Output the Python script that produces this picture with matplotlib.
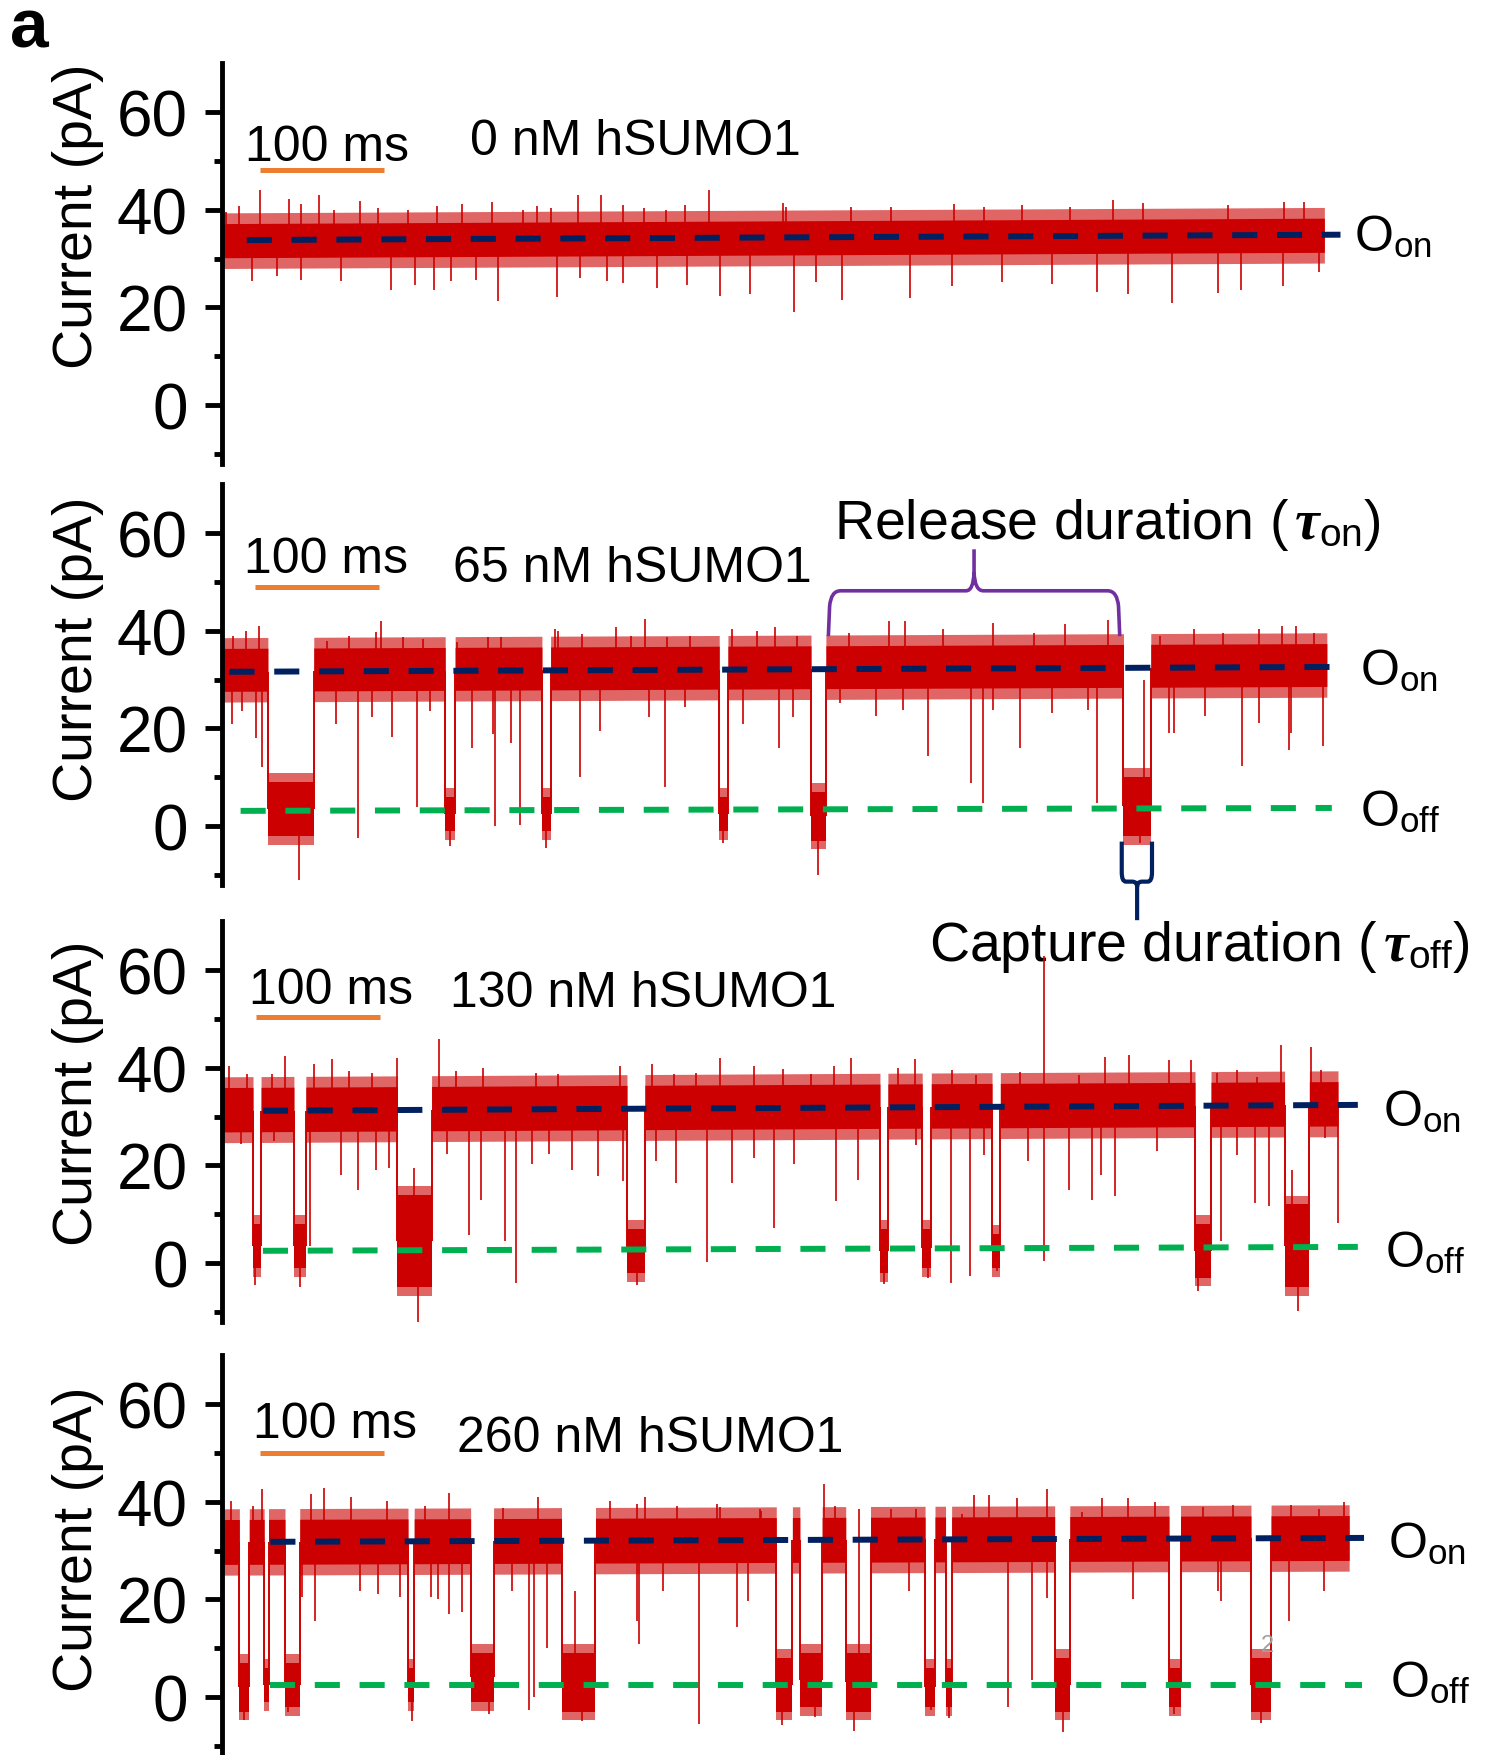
import matplotlib
matplotlib.use('Agg')
import matplotlib.pyplot as plt
from matplotlib.path import Path
from matplotlib.patches import PathPatch

plt.rcParams['font.family'] = ['Liberation Sans', 'DejaVu Sans']
plt.rcParams['mathtext.fontset'] = 'custom'
plt.rcParams['mathtext.rm'] = 'Liberation Sans'
plt.rcParams['mathtext.it'] = 'Liberation Serif:italic:bold'
plt.rcParams['mathtext.bf'] = 'Liberation Sans:bold'

RED = '#cc0000'
NAVY = '#002060'
GREEN = '#00b050'
ORANGE = '#ed7d31'
PURPLE = '#7030a0'

# ---------------- data: time in ms, current in pA ----------------
conc_labels = ['0 nM hSUMO1', '65 nM hSUMO1', '130 nM hSUMO1', '260 nM hSUMO1']
trace_end = [889, 891, 900, 909]

# dashed reference levels: (t_start, t_end, value_start, value_end)
on_lines = [(20, 902, 33.8, 34.9), (6, 900, 31.6, 32.6),
            (33, 916, 31.2, 32.4), (39, 921, 31.8, 32.6)]
off_lines = [None, (15, 895, 3.1, 3.7),
             (33, 916, 2.5, 3.3), (39, 919, 2.5, 2.5)]

# spread of the open-state noise band around the O_on level (low, high)
on_noise = [(-3.6, 3.4), (-4.0, 4.8), (-4.3, 4.8), (-4.6, 4.6)]

# capture events: (start, end, band low, band high)
caps_0 = []
caps_65 = [(37, 74, -2, 9), (180, 188, -1, 6), (258, 265, -1, 6),
           (401, 408, -1, 6), (475, 487, -3, 7), (727, 749, -2, 10)]
caps_130 = [(25, 31.5, -1, 8), (58, 67.6, -1, 8), (141.5, 169, -5, 14),
            (326.6, 341, -2, 7), (530.6, 537, -2, 7), (564.7, 572, -1, 7),
            (621, 627.7, -1, 6), (784.7, 797.6, -3, 8), (856.9, 876.9, -5, 12)]
caps_260 = [(14, 22, -3, 7), (34, 37.5, -1, 6), (50.8, 62.7, -2, 7),
            (150, 155, -1, 6), (200.5, 219, -1, 9), (273.8, 301.2, -3, 9),
            (447, 460, -3, 8), (466, 484, -2, 9), (503, 523, -3, 9),
            (567, 575, -2, 6), (583.5, 588.4, -2, 6), (671.5, 683.7, -3, 8),
            (763.7, 773, -2, 6), (829.8, 846, -3, 8)]

# brief excursions: (time, extreme value)
down_0 = [(0.5, 20.6), (23.8, 25.4), (44, 26.5), (64, 25.7), (95.8, 25.4),
          (136, 23.5), (156, 24.6), (170.7, 23.5), (185, 25.4), (205, 25.7),
          (222.5, 21.3), (270, 22.1), (288.8, 26.0), (310.3, 25.5), (323.3, 25.0),
          (350.6, 24.0), (375, 24.6), (401.5, 22.4), (426, 22.8), (461.3, 19.0),
          (478.8, 25.2), (500.4, 21.5), (555.1, 22.0), (588.4, 24.4), (629, 25.2),
          (669.5, 24.8), (706, 23.2), (730.3, 22.8), (766.2, 21.0), (803.4, 23.0),
          (821.7, 23.5), (856, 24.4), (884.5, 27.2)]
up_0 = [(3.6, 39.6), (13.7, 40.7), (31, 44.0), (54, 42.2), (64, 41.1),
        (77.9, 43.0), (90, 40.0), (111.6, 41.8), (126, 40.4), (150, 40.0),
        (173.6, 40.7), (193.7, 41.1), (218.1, 41.6), (242.7, 40.0), (254, 40.7),
        (265.7, 40.4), (287.3, 43.0), (306, 43.0), (323, 41.0), (340.6, 40.4),
        (358, 40.0), (373.7, 41.0), (392.4, 44.0), (452.4, 41.3), (454.5, 40.5),
        (507.2, 40.6), (539.7, 40.6), (590.4, 41.1), (614.7, 40.6), (645.2, 41.0),
        (683.7, 40.6), (718.2, 42.0), (742.5, 41.3), (811.5, 41.0), (856.1, 41.7),
        (872.4, 41.5)]

down_65 = [(8, 21), (16, 23.6), (27.6, 18), (32.3, 12), (62, -11), (91.8, 20.9),
           (110, -2.4), (120.7, 22.3), (137, 18.2), (157, 3.8), (167.7, 23.6),
           (184, -4), (202, 16), (218.2, 18.8), (220, 0), (232.7, 17), (240, 0.3),
           (261, -4.5), (288.6, 10), (304.9, 19.5), (344.6, 22.3), (357.3, 7.9),
           (373.5, 24.3), (404, -3.5), (420.4, 20.9), (449.4, 16), (460.1, 22.3),
           (481, -10), (498, 25.2), (527.2, 22.5), (549, 23.8), (569.2, 14.3),
           (603.7, 8.8), (613.9, 4.7), (621.9, 23.8), (643.8, 16), (669.2, 23.2),
           (698.3, 23.8), (705.7, 4.7), (740, -3.5), (763.8, 19), (767.6, 19),
           (793, 22.5), (822.2, 12.2), (836.6, 21.1), (860.4, 15.6), (862, 19),
           (887.7, 16.3)]
up_65 = [(8.8, 39), (19.6, 40), (30, 41), (84.6, 38), (102.7, 39), (124.3, 39.7),
         (128, 42), (146, 38.7), (162.3, 38.4), (189.3, 37.7), (214.6, 38.7),
         (225.4, 38.7), (268.8, 40.4), (270.6, 40), (290.4, 39.4), (317.5, 40.8),
         (330.2, 39), (341, 42.5), (359, 38.7), (377.1, 39), (411.4, 40.4),
         (431.3, 40), (445.7, 40.7), (463.8, 39), (505.4, 39.6), (538, 42),
         (551, 42), (581.8, 40.3), (621.9, 41.6), (654.6, 39.6), (680, 41.3),
         (714.8, 42.3), (743.7, 30), (756.5, 38.9), (784, 40.3), (807.5, 39.6),
         (836.6, 40.3), (854.8, 41), (865.8, 41), (880.3, 39.6)]

down_130 = [(15, 24.3), (27, -4.5), (41.9, 25), (63, -5), (71.2, 3.4), (95.6, 18),
            (109.9, 15), (124.3, 19), (135, 19.5), (158, -12), (181.6, 22.3),
            (199.5, 5.8), (208.5, 13), (228.2, 4.5), (237.1, -4), (249.7, 20.2),
            (264, 22.3), (281.9, 19), (303.4, 17.8), (323, 16.8), (335, -4.5),
            (350, 20.9), (366.1, 16.4), (391.1, 0.3), (410.9, 16.4), (428.8, 21.6),
            (444.9, 7.2), (461, 20.2), (495.1, 12.7), (513, 17), (534, -4.3),
            (559.8, 24.2), (569, -3), (587.5, -4), (603.5, -2.6), (614.8, 22.2),
            (625, -1.6), (650.4, 20.8), (663.3, 0.4), (683.4, 15), (702, 13),
            (708.7, 18.1), (720, 13.7), (754, 22.9), (787, -5.7), (805.8, 4.5),
            (818.7, 22.2), (833.2, 12.3), (844.6, 11.6), (868, -9.8), (889.9, 25.6),
            (899.6, 8.2)]
up_130 = [(6, 40.4), (20.4, 38.7), (40.1, 38.7), (50.8, 42.5), (74.1, 40.8),
          (88.4, 41.8), (102.8, 39.4), (120.7, 39), (141, 42), (154.7, 19.5),
          (175.2, 45.9), (188.8, 39.4), (210.3, 40), (253.3, 39), (271.2, 38.7),
          (321.3, 40.4), (346.4, 40.8), (364.3, 38.7), (382.3, 39), (401.9, 42.1),
          (428.8, 40.4), (452.1, 39.7), (475.4, 38.7), (493.3, 40.4), (507.6, 42),
          (545.2, 39.9), (558.8, 41.9), (588.9, 39.5), (608.3, 38.5), (643.9, 39.2),
          (663.3, 63), (690.9, 38.5), (711.9, 42.3), (731.3, 42.6), (763.7, 41.6),
          (781.5, 41.6), (802.5, 38.9), (818.7, 39.5), (834.9, 38.2), (854.2, 44.6),
          (863, 19), (878.5, 44.3), (886.6, 39.5)]

down_260 = [(18, -4.8), (53, -3), (64.5, 20.4), (75.3, 15.6), (111.3, 21.8),
            (125.7, 21.1), (143.7, 20.4), (153, -5), (168.8, 20.4), (174.2, 20),
            (183.2, 17), (193.3, 17.4), (215, -3.5), (233.6, 21.8), (247.9, -2.7),
            (251.5, 0), (262.3, 10), (290, -5), (334.3, 15.6), (336, 10.9),
            (355.9, 21.8), (384.6, -5.5), (415.2, 14.3), (424, 19.7), (452, -5.8),
            (478, -4), (510, -7), (553.9, 21.7), (572, -2.7), (586, -4.4),
            (633.9, -2), (653, 3.4), (665.4, 20.3), (678, -7.1), (734.4, 20),
            (768, -3.4), (803.4, 21.7), (805.5, 19.7), (838, -5.4), (860.2, 15.6),
            (888.6, 21.7)]
up_260 = [(7, 40.2), (25, 39.1), (32.2, 42.6), (71.7, 41.5), (82.5, 42.9),
          (104.1, 40.9), (132.9, 40.2), (163.4, 39.1), (183.2, 41.9), (226.4, 38.8),
          (255.2, 40.9), (284.6, 21.8), (312.7, 40.2), (334.3, 39.5), (341.5, 40.9),
          (366.7, 39.1), (399, 39.5), (401.7, 39), (434.2, 38.6), (435, 38.1),
          (485.4, 43.6), (494.4, 39.1), (514.1, 38.5), (539.7, 38.6), (560, 38.6),
          (596.5, 37.6), (606.6, 41.3), (618.8, 41.3), (641, 40.7), (665.5, 42.7),
          (693.8, 38), (710, 40.7), (730.3, 40.7), (752.7, 40), (791.2, 39),
          (815.5, 39.3), (862.2, 39.3), (884.5, 38.6), (904.9, 40)]

captures = [caps_0, caps_65, caps_130, caps_260]
downs = [down_0, down_65, down_130, down_260]
ups = [up_0, up_65, up_130, up_260]

# ---------------- layout (figure pixels) ----------------
W, H = 1489, 1756
AX_LEFT = 222
PX_PER_MS = 1.24
PX_PER_PA = 4.88
YMIN, YMAX = -12, 70
zero_px = [406, 827, 1264, 1698]
ylabel_center = [38.9, 36.5, 34.9, 32.6]

bar_pos = [(30.6, 48.2), (26.8, 49.0), (27.7, 50.4), (30.5, 50.0)]
bar_text = [(18.5, 50.2), (17.8, 52.0), (21.4, 53.2), (25.0, 53.3)]
conc_text = [(200, 51.5), (186.6, 50.3), (184, 52.6), (189.3, 50.4)]
on_text = [(913, 31.8), (918, 29.1), (936, 28.3), (940.5, 28.6)]
off_text = [None, (918, 0.1), (938, -0.7), (942.3, 0.2)]


def line_value(line, t):
    t0, t1, v0, v1 = line
    return v0 + (v1 - v0) * (t - t0) / (t1 - t0)


def draw_trace(ax, end, on_line, noise, caps, down, up):
    lo_off, hi_off = noise
    # open-state stretches between captures
    edges = [0]
    for s, e, _, _ in caps:
        edges += [s, e]
    edges.append(end)
    for a, b in zip(edges[0::2], edges[1::2]):
        x = [a, b]
        c = [line_value(on_line, a), line_value(on_line, b)]
        ax.fill_between(x, [v + lo_off - 2.2 for v in c], [v + hi_off + 2.2 for v in c],
                        color=RED, alpha=0.6, lw=0)
        ax.fill_between(x, [v + lo_off for v in c], [v + hi_off for v in c],
                        color=RED, lw=0)
    # captured stretches
    for s, e, lo, hi in caps:
        ax.fill_between([s, e], lo - 1.8, hi + 1.8, color=RED, alpha=0.6, lw=0)
        ax.fill_between([s, e], lo, hi, color=RED, lw=0)
        for t in (s, e):
            ax.vlines(t, (lo + hi) / 2, line_value(on_line, t), color=RED, lw=1.4)

    def base(t):
        for s, e, lo, hi in caps:
            if s <= t <= e:
                return (lo + hi) / 2
        return line_value(on_line, t)

    for t, v in down + up:
        ax.vlines(t, base(t), v, color=RED, lw=1.2)


def dashed(ax, line, color):
    t0, t1, v0, v1 = line
    ax.plot([t0, t1], [v0, v1], color=color, lw=4.3, dashes=(4.2, 3.3),
            dash_capstyle='butt', solid_capstyle='butt', zorder=5)


fig = plt.figure(figsize=(W / 100, H / 100), dpi=100)
axes = []
for i in range(4):
    ax_h = (YMAX - YMIN) * PX_PER_PA
    bottom = zero_px[i] - YMIN * PX_PER_PA
    ax = fig.add_axes([AX_LEFT / W, 1 - bottom / H, (W - AX_LEFT) / W, ax_h / H])
    ax.set_xlim(0, (W - AX_LEFT) / PX_PER_MS)
    ax.set_ylim(YMIN, YMAX)
    ax.patch.set_visible(False)
    for side in ['top', 'right', 'bottom']:
        ax.spines[side].set_visible(False)
    ax.spines['left'].set_linewidth(3.5)
    ax.set_xticks([])
    ax.set_yticks([0, 20, 40, 60])
    ax.set_yticks([-10, 10, 30, 50], minor=True)
    ax.tick_params(axis='y', which='major', length=12.5, width=3.5,
                   labelsize=46, pad=12)
    ax.tick_params(axis='y', which='minor', length=6, width=3.5)
    ax.text(-0.1133, (ylabel_center[i] - YMIN) / (YMAX - YMIN), 'Current (pA)',
            transform=ax.transAxes, rotation=90, ha='center', va='center',
            fontsize=40)

    draw_trace(ax, trace_end[i], on_lines[i], on_noise[i],
               captures[i], downs[i], ups[i])
    dashed(ax, on_lines[i], NAVY)
    if off_lines[i] is not None:
        dashed(ax, off_lines[i], GREEN)

    # 100 ms scale bar
    bx, by = bar_pos[i]
    ax.plot([bx, bx + 100], [by, by], color=ORANGE, lw=3.6, solid_capstyle='butt')
    ax.text(*bar_text[i], '100 ms', fontsize=36, ha='left', va='baseline')
    ax.text(*conc_text[i], conc_labels[i], fontsize=36, ha='left', va='baseline')

    ax.text(*on_text[i], r'$\mathrm{O}_{\mathrm{on}}$', fontsize=36,
            ha='left', va='baseline')
    if off_text[i] is not None:
        ax.text(*off_text[i], r'$\mathrm{O}_{\mathrm{off}}$', fontsize=36,
                ha='left', va='baseline')
    axes.append(ax)

# release-duration brace over the long open dwell (65 nM)
ax2 = axes[1]
brace = Path(
    [(489, 38.9), (490, 45), (491, 48.2), (499, 48.2), (600, 48.2),
     (606, 48.2), (606.5, 52), (606.5, 56.7),
     (606.5, 52), (607, 48.2), (614, 48.2), (714, 48.2),
     (722, 48.2), (723, 45), (724, 38.9)],
    [Path.MOVETO, Path.LINETO, Path.CURVE3, Path.CURVE3, Path.LINETO,
     Path.CURVE3, Path.CURVE3, Path.LINETO,
     Path.MOVETO, Path.CURVE3, Path.CURVE3, Path.LINETO,
     Path.CURVE3, Path.CURVE3, Path.LINETO])
ax2.add_patch(PathPatch(brace, fill=False, edgecolor=PURPLE, lw=2.6,
                        clip_on=False, zorder=6))
ax2.text(493.6, 59, r'Release duration ($\,\tau_{\mathrm{on}}$)', fontsize=40,
         ha='left', va='baseline')

# capture-duration bracket under the following block
cap_bracket = Path(
    [(725.6, -3.2), (725.6, -9.5), (725.6, -11.4), (729, -11.4), (734, -11.4),
     (738, -11.4), (738, -12.5), (738, -19.3),
     (738, -12.5), (738, -11.4), (742, -11.4), (746.6, -11.4),
     (750, -11.4), (750, -9.5), (750, -3.2)],
    [Path.MOVETO, Path.LINETO, Path.CURVE3, Path.CURVE3, Path.LINETO,
     Path.CURVE3, Path.CURVE3, Path.LINETO,
     Path.MOVETO, Path.CURVE3, Path.CURVE3, Path.LINETO,
     Path.CURVE3, Path.CURVE3, Path.LINETO])
ax2.add_patch(PathPatch(cap_bracket, fill=False, edgecolor=NAVY, lw=3.0,
                        clip_on=False, zorder=6))
ax2.text(570.3, -27.4, r'Capture duration ($\,\tau_{\mathrm{off}}$)', fontsize=40,
         ha='left', va='baseline', zorder=7)

axes[3].text(843, 10.6, '2', fontsize=17, color='#a0a0a0', ha='center', va='center')

fig.text(10 / W, 1 - 48 / H, 'a', fontsize=50, fontweight='bold',
         ha='left', va='baseline')

fig.savefig('out.png', dpi=100)
